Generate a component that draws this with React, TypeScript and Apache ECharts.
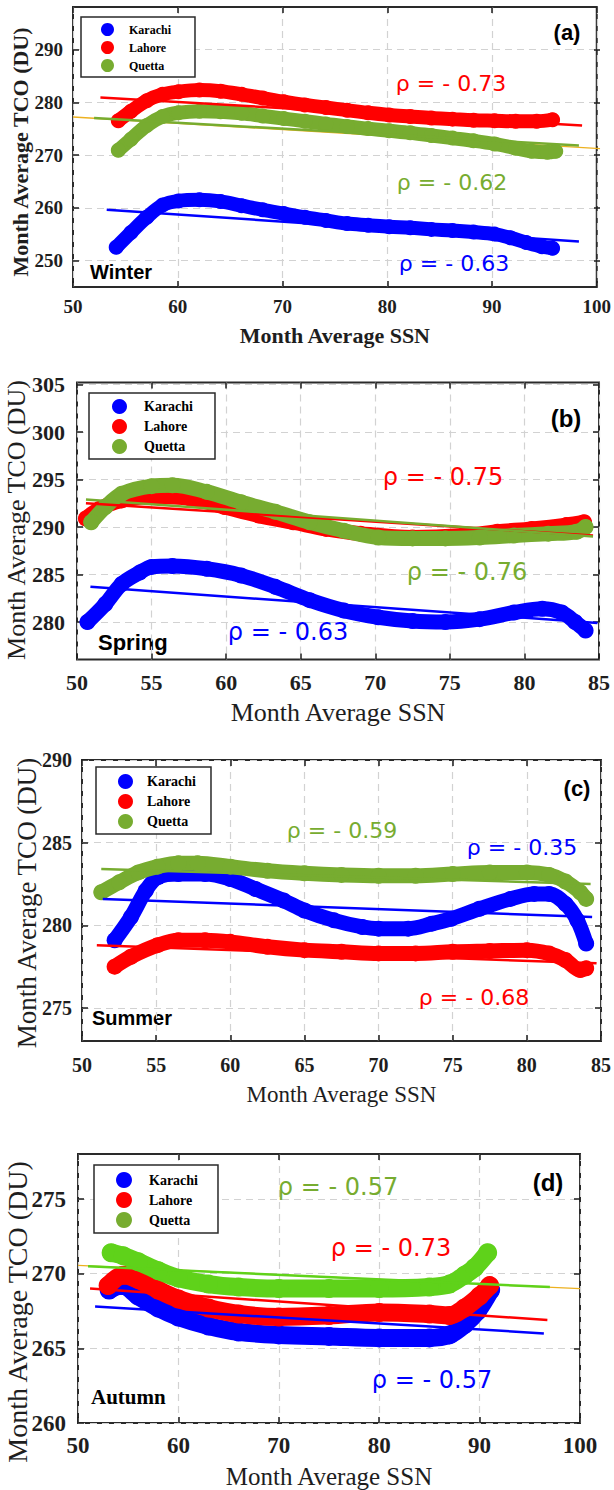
import React, { useEffect, useRef } from 'react';
import * as echarts from 'echarts';

const cities = ['Karachi', 'Lahore', 'Quetta'];
const xTitle = 'Month Average SSN';
const yTitle = 'Month Average TCO (DU)';

// ---------- (a) Winter ----------
const winterKarachiSSN = [54.1, 55.5, 57, 58.5, 60, 62, 64, 66, 68, 70, 72, 74, 76, 78, 80, 82, 84, 86, 88, 90, 91.5, 93, 94.5, 95.5];
const winterKarachiTCO = [252.5, 255.3, 258.2, 260.5, 261.3, 261.5, 261.2, 260.4, 259.6, 258.9, 258.2, 257.6, 257.0, 256.7, 256.4, 256.2, 255.9, 255.7, 255.4, 255.0, 254.3, 253.4, 252.6, 252.3];
const winterLahoreSSN = [54.3, 55.5, 57, 58.5, 60, 62, 64, 66, 68, 70, 72, 74, 76, 78, 80, 82, 84, 86, 88, 90, 92, 94, 95.5];
const winterLahoreTCO = [276.5, 278.3, 280.3, 281.5, 282.0, 282.3, 282.1, 281.5, 280.8, 280.1, 279.5, 279.0, 278.5, 278.0, 277.6, 277.3, 277.0, 276.8, 276.6, 276.5, 276.4, 276.4, 276.7];
const winterQuettaSSN = [54.3, 55.5, 57, 58.5, 60, 62, 64, 66, 68, 70, 72, 74, 76, 78, 80, 82, 84, 86, 88, 90, 92, 93.5, 95, 95.8];
const winterQuettaTCO = [270.9, 273.0, 275.6, 277.3, 278.0, 278.3, 278.2, 277.9, 277.4, 276.9, 276.4, 275.9, 275.4, 275.0, 274.6, 274.2, 273.7, 273.2, 272.7, 272.1, 271.3, 270.7, 270.5, 270.7];
const winterFitSSN = [[53.2, 98], [52.6, 98.3], [52, 98]];
const winterFitTCO = [[259.6, 253.6], [280.9, 275.6], [277.0, 271.8]];
const winterRefSSN = [50, 100];
const winterRefTCO = [277.2, 271.2];
const winterRho = ['ρ = - 0.63', 'ρ = - 0.73', 'ρ = - 0.62'];

// ---------- (b) Spring ----------
const springKarachiSSN = [50.7, 51.9, 53.0, 54.2, 55.0, 56.4, 58.7, 61.0, 63.3, 65.6, 67.9, 70.2, 72.5, 74.7, 77.0, 79.3, 81.2, 82.5, 83.4, 84.1];
const springKarachiTCO = [280.0, 281.9, 284.0, 285.2, 285.8, 285.9, 285.6, 284.9, 283.7, 282.3, 281.2, 280.5, 280.1, 280.0, 280.3, 281.0, 281.4, 281.0, 280.0, 279.1];
const springLahoreSSN = [50.6, 51.5, 53.0, 55.0, 57.6, 59.9, 62.2, 64.5, 66.7, 69.0, 72.5, 75.9, 78.2, 80.5, 82.8, 84.0];
const springLahoreTCO = [290.9, 291.9, 292.8, 293.2, 293.0, 292.1, 291.2, 290.5, 289.8, 289.3, 288.9, 289.1, 289.5, 289.8, 290.2, 290.5];
const springQuettaSSN = [50.95, 51.9, 53.0, 55.0, 56.4, 58.7, 61.0, 63.3, 65.6, 67.9, 70.2, 72.5, 74.7, 77.0, 79.3, 81.6, 83.5, 84.1];
const springQuettaTCO = [290.5, 292.1, 293.5, 294.3, 294.4, 293.7, 292.6, 291.6, 290.5, 289.6, 288.9, 288.8, 288.8, 288.9, 289.1, 289.3, 289.5, 290.0];
const springFitSSN = [[50.9, 84.9], [50.6, 84.6], [50.6, 84.6]];
const springFitTCO = [[283.7, 279.9], [292.5, 289.1], [292.9, 289.0]];
const springRho = ['ρ = - 0.63', 'ρ = - 0.75', 'ρ = - 0.76'];

// ---------- (c) Summer ----------
const summerKarachiSSN = [52.2, 53.3, 54.3, 55.1, 56.5, 58.3, 60, 61.7, 63.6, 65, 67, 68.9, 70, 72, 73.6, 74.9, 76.8, 78.9, 80.5, 81.5, 82.6, 83.4, 84];
const summerKarachiTCO = [279.1, 280.5, 282.1, 282.9, 283.1, 283.1, 282.8, 282.2, 281.5, 280.9, 280.3, 279.9, 279.8, 279.8, 280.1, 280.4, 281.0, 281.6, 281.9, 281.9, 281.3, 280.3, 278.9];
const summerLahoreSSN = [52.2, 53.3, 55.1, 56.5, 58.3, 60, 62.5, 65, 67.5, 70, 72.5, 75, 77.5, 80, 81.5, 82.6, 83.6, 84];
const summerLahoreTCO = [277.5, 278.1, 278.8, 279.1, 279.1, 279.0, 278.7, 278.5, 278.4, 278.3, 278.3, 278.4, 278.45, 278.5, 278.3, 277.9, 277.3, 277.4];
const summerQuettaSSN = [51.3, 52.5, 53.8, 55.1, 56.5, 57.8, 60, 62.5, 65, 67.5, 70, 72.5, 75, 77.5, 80, 81.5, 82.6, 83.6, 84.0];
const summerQuettaTCO = [282.0, 282.6, 283.2, 283.55, 283.75, 283.75, 283.55, 283.3, 283.15, 283.05, 283.0, 283.0, 283.1, 283.2, 283.2, 283.05, 282.65, 282.0, 281.6];
const summerFitSSN = [[51.4, 84.4], [51.0, 84.7], [51.3, 84.3]];
const summerFitTCO = [[281.6, 280.5], [278.8, 277.7], [283.4, 282.5]];
const summerRho = ['ρ = - 0.35', 'ρ = - 0.68', 'ρ = - 0.59'];

// ---------- (d) Autumn ----------
const autumnKarachiSSN = [53.1, 54.4, 56, 58, 60, 63, 66, 70, 75, 80, 85, 87, 88.5, 89.8, 91.1];
const autumnKarachiTCO = [268.9, 269.2, 268.5, 267.7, 267.1, 266.5, 266.1, 265.9, 265.8, 265.7, 265.7, 265.9, 266.6, 267.5, 268.9];
const autumnLahoreSSN = [53.0, 54.5, 56, 58, 60, 63, 66, 70, 75, 80, 85, 87, 88.5, 90, 91];
const autumnLahoreTCO = [269.2, 269.9, 269.6, 268.9, 268.3, 267.7, 267.3, 267.1, 267.2, 267.4, 267.3, 267.2, 267.7, 268.5, 269.2];
const autumnQuettaSSN = [53.3, 54.5, 56, 58, 60, 63, 66, 70, 75, 80, 85, 87, 88.5, 89.5, 90.8];
const autumnQuettaTCO = [271.4, 271.2, 270.8, 270.2, 269.7, 269.3, 269.1, 269.0, 269.0, 269.0, 269.1, 269.3, 269.9, 270.4, 271.4];
const autumnFitSSN = [[51.7, 96.4], [51.2, 96.75], [51, 97]];
const autumnFitTCO = [[267.8, 266.0], [269.0, 266.9], [270.5, 269.1]];
const autumnRefSSN = [50, 100];
const autumnRefTCO = [270.55, 269.0];
const autumnRho = ['ρ = - 0.57', 'ρ = - 0.73', 'ρ = - 0.57'];

const SERIF = '"Liberation Serif", "Times New Roman", serif';
const SANS = '"Liberation Sans", Arial, sans-serif';
const RHO_FONT = '"DejaVu Sans", sans-serif';
const INK = '#1e1e1e';
const BLUE = '#0000ff';
const RED = '#ff0000';
const OLIVE = '#77ac30';
const LIME = '#5fd21a';
const ORANGE = '#edb120';

const panels = [
  {
    label: '(a)', season: 'Winter',
    ssn: [winterKarachiSSN, winterLahoreSSN, winterQuettaSSN],
    tco: [winterKarachiTCO, winterLahoreTCO, winterQuettaTCO],
    fitSSN: winterFitSSN, fitTCO: winterFitTCO, refSSN: winterRefSSN, refTCO: winterRefTCO,
    rho: winterRho, colors: [BLUE, RED, OLIVE], rhoColors: [BLUE, RED, OLIVE],
    xMin: 50, xMax: 100, xStep: 10, yMin: 250, yMax: 290, yStep: 10,
    L: {
      left: 73, top: 7, width: 527, height: 280, dataTop: 49.5, dataHeight: 211,
      tick: 19, xMargin: 10, yMargin: 10, xNameSize: 22, xNameWeight: 'bold', xNameGap: 37,
      yTitle: { x: 20, y: 152, size: 22, weight: 'bold' }, marker: 15,
      legend: { left: 81, top: 17, padding: [6, 24, 5, 20], item: 13, gap: 5, font: 12, textPad: 10 },
      seasonStyle: { x: 90, y: 272, size: 20, weight: 'bold', family: SANS },
      labelPos: { x: 567, y: 32, size: 22 },
      rhoPos: [[454, 263], [451, 83], [452, 182]], rhoSize: 22,
    },
  },
  {
    label: '(b)', season: 'Spring',
    ssn: [springKarachiSSN, springLahoreSSN, springQuettaSSN],
    tco: [springKarachiTCO, springLahoreTCO, springQuettaTCO],
    fitSSN: springFitSSN, fitTCO: springFitTCO, refSSN: null, refTCO: null,
    rho: springRho, colors: [BLUE, RED, OLIVE], rhoColors: [BLUE, RED, OLIVE],
    xMin: 50, xMax: 85, xStep: 5, yMin: 280, yMax: 305, yStep: 5,
    L: {
      left: 77, top: 382.5, width: 522, height: 277, dataTop: 384.5, dataHeight: 237.5,
      tick: 22, xMargin: 12, yMargin: 12, xNameSize: 26, xNameWeight: 'normal', xNameGap: 40,
      yTitle: { x: 16, y: 520, size: 26, weight: 'normal' }, marker: 16,
      legend: { left: 89, top: 393, padding: [6, 22, 5, 23], item: 15, gap: 5, font: 14, textPad: 12 },
      seasonStyle: { x: 98, y: 642, size: 22, weight: 'bold', family: SANS },
      labelPos: { x: 566, y: 418, size: 24 },
      rhoPos: [[288, 632], [443, 477], [467, 572]], rhoSize: 24,
    },
  },
  {
    label: '(c)', season: 'Summer',
    ssn: [summerKarachiSSN, summerLahoreSSN, summerQuettaSSN],
    tco: [summerKarachiTCO, summerLahoreTCO, summerQuettaTCO],
    fitSSN: summerFitSSN, fitTCO: summerFitTCO, refSSN: null, refTCO: null,
    rho: summerRho, colors: [BLUE, RED, OLIVE], rhoColors: [BLUE, RED, OLIVE],
    xMin: 50, xMax: 85, xStep: 5, yMin: 275, yMax: 290, yStep: 5,
    L: {
      left: 82, top: 760, width: 519, height: 281, dataTop: 760, dataHeight: 248,
      tick: 20, xMargin: 14, yMargin: 10, xNameSize: 23, xNameWeight: 'normal', xNameGap: 42,
      yTitle: { x: 27, y: 903, size: 27, weight: 'normal' }, marker: 16,
      legend: { left: 96, top: 767, padding: [7, 15, 5, 22], item: 15, gap: 5, font: 14, textPad: 9 },
      seasonStyle: { x: 92, y: 1018, size: 20, weight: 'bold', family: SANS },
      labelPos: { x: 577, y: 788, size: 22 },
      rhoPos: [[522, 847], [474, 997], [342, 830]], rhoSize: 22,
    },
  },
  {
    label: '(d)', season: 'Autumn',
    ssn: [autumnKarachiSSN, autumnLahoreSSN, autumnQuettaSSN],
    tco: [autumnKarachiTCO, autumnLahoreTCO, autumnQuettaTCO],
    fitSSN: autumnFitSSN, fitTCO: autumnFitTCO, refSSN: autumnRefSSN, refTCO: autumnRefTCO,
    rho: autumnRho, colors: [BLUE, RED, LIME], rhoColors: [BLUE, RED, OLIVE],
    xMin: 50, xMax: 100, xStep: 10, yMin: 260, yMax: 275, yStep: 5,
    L: {
      left: 78, top: 1154, width: 502, height: 269, dataTop: 1199, dataHeight: 224,
      tick: 23, xMargin: 11, yMargin: 12, xNameSize: 25, xNameWeight: 'normal', xNameGap: 41,
      yTitle: { x: 17, y: 1312, size: 28, weight: 'normal' }, marker: 19,
      legend: { left: 94, top: 1165, padding: [7, 20, 5, 22], item: 16, gap: 4, font: 14, textPad: 12 },
      seasonStyle: { x: 91, y: 1397, size: 21, weight: 'bold', family: SERIF },
      labelPos: { x: 548, y: 1182, size: 24 },
      rhoPos: [[432, 1380], [391, 1248], [338, 1187]], rhoSize: 24,
    },
  },
];

function zip(xs: number[], ys: number[]) {
  return xs.map((x, k) => [x, ys[k]]);
}

function buildOption() {
  const grid: any[] = [];
  const xAxis: any[] = [];
  const yAxis: any[] = [];
  const series: any[] = [];
  const legend: any[] = [];
  const elements: any[] = [];

  const tickStyle = { show: true, inside: true, length: 6, lineStyle: { color: INK, width: 1.5 } };
  const gridLine = { show: true, lineStyle: { color: '#d2d2d2', width: 1.2, type: [7, 5] } };

  panels.forEach((p, i) => {
    const L = p.L;
    grid.push({ left: L.left, top: L.top, width: L.width, height: L.height, show: true, borderColor: '#2a2a2a', borderWidth: 2, backgroundColor: 'rgba(0,0,0,0)' });
    grid.push({ left: L.left, top: L.dataTop, width: L.width, height: L.dataHeight, show: false });
    const gA = 2 * i;
    const gB = 2 * i + 1;
    const labelStyle = { fontFamily: SERIF, fontWeight: 'bold', fontSize: L.tick, color: INK };

    xAxis.push({
      type: 'value', gridIndex: gA, position: 'bottom', min: p.xMin, max: p.xMax, interval: p.xStep,
      axisLine: { show: false }, axisTick: tickStyle,
      axisLabel: { ...labelStyle, margin: L.xMargin },
      splitLine: gridLine,
      name: xTitle, nameLocation: 'middle', nameGap: L.xNameGap,
      nameTextStyle: { fontFamily: SERIF, fontWeight: L.xNameWeight, fontSize: L.xNameSize, color: INK },
    });
    xAxis.push({
      type: 'value', gridIndex: gA, position: 'top', min: p.xMin, max: p.xMax, interval: p.xStep,
      axisLine: { show: false }, axisTick: tickStyle, axisLabel: { show: false }, splitLine: { show: false },
    });
    xAxis.push({ type: 'value', gridIndex: gB, show: false, min: p.xMin, max: p.xMax, interval: p.xStep });

    yAxis.push({ type: 'value', gridIndex: gA, show: false, min: 0, max: 1 });
    yAxis.push({
      type: 'value', gridIndex: gB, position: 'left', min: p.yMin, max: p.yMax, interval: p.yStep,
      axisLine: { show: false }, axisTick: tickStyle,
      axisLabel: { ...labelStyle, margin: L.yMargin },
      splitLine: gridLine,
    });
    yAxis.push({
      type: 'value', gridIndex: gB, position: 'right', min: p.yMin, max: p.yMax, interval: p.yStep,
      axisLine: { show: false }, axisTick: tickStyle, axisLabel: { show: false }, splitLine: { show: false },
    });

    const xi = 3 * i + 2;
    const yi = 3 * i + 1;

    if (p.refSSN && p.refTCO) {
      series.push({
        type: 'line', xAxisIndex: xi, yAxisIndex: yi, data: zip(p.refSSN, p.refTCO),
        symbol: 'none', lineStyle: { color: ORANGE, width: 1.3 }, z: 1, silent: true, clip: false,
      });
    }

    cities.forEach((c, k) => {
      series.push({
        name: c, type: 'line', xAxisIndex: xi, yAxisIndex: yi,
        data: zip(p.ssn[k], p.tco[k]),
        smooth: 0.35, symbol: 'circle', symbolSize: L.marker, showSymbol: true,
        itemStyle: { color: p.colors[k] },
        lineStyle: { color: p.colors[k], width: L.marker - 1, cap: 'round', join: 'round' },
        z: 2 + k * 0.1, clip: false,
      });
    });
    cities.forEach((c, k) => {
      series.push({
        type: 'line', xAxisIndex: xi, yAxisIndex: yi,
        data: zip(p.fitSSN[k], p.fitTCO[k]),
        symbol: 'none', lineStyle: { color: p.colors[k], width: 2.5 }, z: 3, silent: true, clip: false,
      });
    });

    const lg = L.legend;
    legend.push({
      data: cities, orient: 'vertical', left: lg.left, top: lg.top, padding: lg.padding,
      itemWidth: lg.item, itemHeight: lg.item, itemGap: lg.gap, icon: 'circle',
      borderColor: '#2a2a2a', borderWidth: 1.5, backgroundColor: '#ffffff',
      textStyle: { fontFamily: SERIF, fontWeight: 'bold', fontSize: lg.font, color: '#000', padding: [0, 0, 0, lg.textPad] },
      selectedMode: false,
    });

    elements.push({
      type: 'text', x: L.yTitle.x, y: L.yTitle.y, rotation: Math.PI / 2,
      style: { text: yTitle, fill: INK, fontFamily: SERIF, fontWeight: L.yTitle.weight, fontSize: L.yTitle.size, align: 'center', verticalAlign: 'middle' },
    });
    elements.push({
      type: 'text', x: L.seasonStyle.x, y: L.seasonStyle.y,
      style: { text: p.season, fill: '#000', fontFamily: L.seasonStyle.family, fontWeight: L.seasonStyle.weight, fontSize: L.seasonStyle.size, align: 'left', verticalAlign: 'middle' },
    });
    elements.push({
      type: 'text', x: L.labelPos.x, y: L.labelPos.y,
      style: { text: p.label, fill: '#000', fontFamily: SANS, fontWeight: 'bold', fontSize: L.labelPos.size, align: 'center', verticalAlign: 'middle' },
    });
    p.rho.forEach((r, k) => {
      elements.push({
        type: 'text', x: L.rhoPos[k][0], y: L.rhoPos[k][1],
        style: { text: r, fill: p.rhoColors[k], fontFamily: RHO_FONT, fontSize: L.rhoSize, align: 'center', verticalAlign: 'middle' },
        z: 10,
      });
    });
  });

  return {
    animation: false,
    backgroundColor: '#ffffff',
    grid, xAxis, yAxis, series, legend,
    graphic: { elements },
  };
}

export default function App() {
  const ref = useRef<HTMLDivElement | null>(null);
  useEffect(() => {
    if (!ref.current) return;
    const chart = echarts.init(ref.current, undefined, { renderer: 'svg' });
    chart.setOption(buildOption() as any);
    return () => chart.dispose();
  }, []);
  return (
    <div
      ref={ref}
      style={{ position: 'absolute', left: 0, top: 0, width: 614, height: 1490, background: '#fff' }}
    />
  );
}
